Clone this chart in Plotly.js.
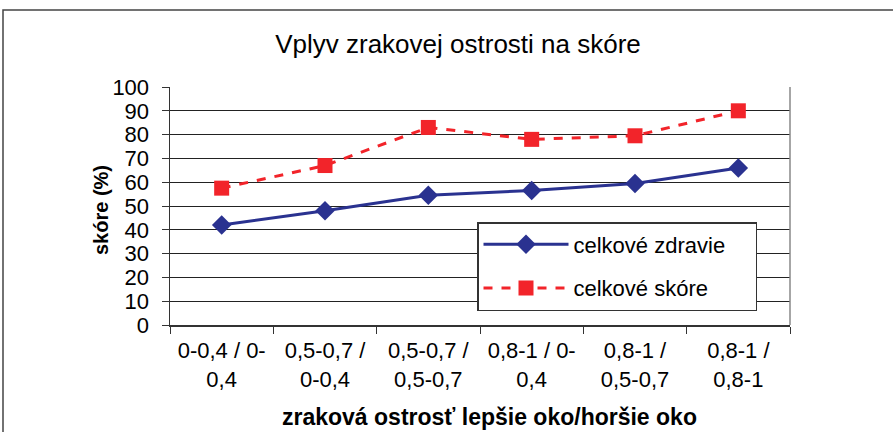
<!DOCTYPE html>
<html>
<head>
<meta charset="utf-8">
<script src="https://cdn.plot.ly/plotly-3.0.1.min.js"></script>
<style>html,body{margin:0;padding:0;background:#fff;}#chart{width:893px;height:432px;}</style>
</head>
<body>
<div id="chart"></div>
<script>
const categories = [
  "0-0,4 / 0-<br>0,4",
  "0,5-0,7 /<br>0-0,4",
  "0,5-0,7 /<br>0,5-0,7",
  "0,8-1 / 0-<br>0,4",
  "0,8-1 /<br>0,5-0,7",
  "0,8-1 /<br>0,8-1"
];
const zdravie = [42, 48, 54.5, 56.5, 59.5, 66];
const skore = [57.5, 67, 83, 78, 79.5, 90];
const yTicks = [0, 10, 20, 30, 40, 50, 60, 70, 80, 90, 100];
const seriesNames = ["celkové zdravie", "celkové skóre"];

const L = 170, R = 790, T = 87, B = 325, W = 893, H = 432;
const pw = R - L, ph = B - T;
const px = x => (x - L) / pw;
const py = y => (B - y) / ph;
const pad = "\u00a0\u00a0\u00a0\u00a0";

const traces = [
  {
    x: categories, y: zdravie, name: seriesNames[0] + pad, type: "scatter", mode: "lines+markers",
    line: {color: "#2A3290", width: 3},
    marker: {symbol: "diamond", size: 15, color: "#2A3290"},
    legendgroup: "a"
  },
  {
    x: categories, y: skore, name: seriesNames[1] + pad, type: "scatter", mode: "lines+markers",
    line: {color: "#F2242A", width: 3, dash: "dash"},
    marker: {symbol: "square", size: 15, color: "#F2242A"},
    legendgroup: "b"
  }
];

const layout = {
  width: W, height: H,
  margin: {l: L, r: W - R, t: T, b: H - B, pad: 0},
  paper_bgcolor: "#fff", plot_bgcolor: "#fff",
  font: {family: "Liberation Sans, Arial, sans-serif", size: 22, color: "#000"},
  title: {text: "Vplyv zrakovej ostrosti na skóre", font: {size: 26, color: "#000"},
          xref: "container", x: 458 / W, xanchor: "center", yref: "container", y: 1 - 44 / H, yanchor: "middle"},
  showlegend: true,
  legend: {x: px(477), y: py(222), xanchor: "left", yanchor: "top",
           bgcolor: "#fff", bordercolor: "#333", borderwidth: 1.5,
           font: {size: 22, color: "#000"}, tracegroupgap: 12, traceorder: "grouped",
           itemwidth: 85},
  xaxis: {
    type: "category", showgrid: false, showline: true, linecolor: "#333", linewidth: 1.5,
    ticks: "outside", tickson: "boundaries", ticklen: 7, tickcolor: "#333",
    tickfont: {size: 22}, range: [-0.5, 5.5], fixedrange: true, ticklabelstandoff: 5
  },
  yaxis: {
    range: [0, 100], tickvals: yTicks, ticktext: yTicks.map(String),
    showgrid: true, gridcolor: "#222", gridwidth: 1,
    showline: true, linecolor: "#333", linewidth: 1.5,
    ticks: "outside", ticklen: 7, tickcolor: "#333", zeroline: false,
    tickfont: {size: 22}, ticklabelstandoff: 8
  },
  annotations: [
    {text: "<b>skóre (%)</b>", textangle: -90, xref: "paper", yref: "paper",
     x: px(101), y: py(210), showarrow: false, font: {size: 20}, xanchor: "center", yanchor: "middle"},
    {text: "<b>zraková ostrosť lepšie oko/horšie oko</b>", xref: "paper", yref: "paper",
     x: px(489), y: py(417), showarrow: false, font: {size: 23}, xanchor: "center", yanchor: "middle"}
  ],
  shapes: [
    {type: "rect", xref: "paper", yref: "paper", x0: px(3), x1: px(W + 20), y0: py(H + 20), y1: py(10),
     line: {color: "#444", width: 1.5}, fillcolor: "rgba(0,0,0,0)", layer: "below"},
    {type: "line", xref: "paper", yref: "paper", x0: 1, x1: 1, y0: 0, y1: 1,
     line: {color: "#888", width: 1.5}}
  ]
};

Plotly.newPlot("chart", traces, layout, {displayModeBar: false, staticPlot: true});
</script>
</body>
</html>
